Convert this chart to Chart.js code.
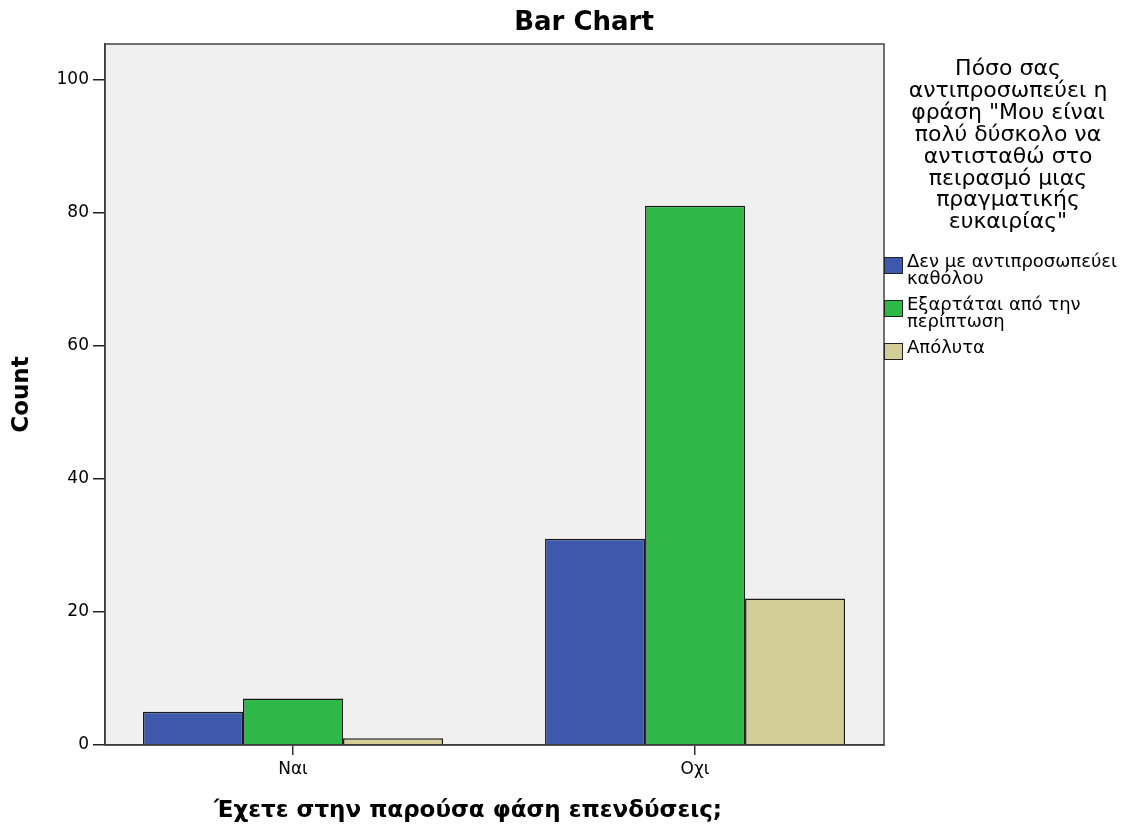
<!DOCTYPE html>
<html><head><meta charset="utf-8">
<script src="https://cdn.jsdelivr.net/npm/chart.js@4/dist/chart.umd.min.js"></script>
<style>html,body{margin:0;padding:0;background:#fff;}</style>
</head><body>
<canvas id="c" width="1141" height="826"></canvas>
<script>
const categories = ["Ναι", "Οχι"];
const seriesLines = [["Δεν με αντιπροσωπεύει", "καθόλου"], ["Εξαρτάται από την", "περίπτωση"], ["Απόλυτα"]];
const notAtAll = [5, 31];
const depends = [7, 81];
const absolutely = [1, 22];
const yTicks = [0, 20, 40, 60, 80, 100];
const chartTitle = "Bar Chart";
const yTitle = "Count";
const xTitle = "Έχετε στην παρούσα φάση επενδύσεις;";
const legendTitleLines = ["Πόσο σας", "αντιπροσωπεύει η", "φράση \"Μου είναι", "πολύ δύσκολο να", "αντισταθώ στο", "πειρασμό μιας", "πραγματικής", "ευκαιρίας\""];
const colors = ["#3E58AC", "#2EB848", "#D3CE97"];
const seriesValues = [notAtAll, depends, absolutely];

const FONT = "'DejaVu Sans', sans-serif";

const deco = {
  id: 'deco',
  beforeDraw(chart) {
    const {ctx, chartArea: a} = chart;
    ctx.save();
    ctx.fillStyle = '#F0F0F0';
    ctx.fillRect(a.left, a.top, a.right - a.left, a.bottom - a.top);
    ctx.restore();
  },
  afterDraw(chart) {
    const {ctx, chartArea: a} = chart;
    ctx.save();
    // plot frame
    ctx.strokeStyle = '#444';
    ctx.lineWidth = 1.5;
    ctx.strokeRect(a.left, a.top, a.right - a.left, a.bottom - a.top);
    // chart title
    ctx.fillStyle = '#000';
    ctx.textAlign = 'center';
    ctx.textBaseline = 'alphabetic';
    ctx.font = "bold 26px " + FONT;
    ctx.fillText(chartTitle, 584, 30);
    // x title
    ctx.font = "bold 23px " + FONT;
    ctx.fillText(xTitle, 468, 817);
    // legend title
    ctx.font = "22px " + FONT;
    legendTitleLines.forEach((t, i) => ctx.fillText(t, 1008, 75 + i * 21.9));
    // legend items
    ctx.textAlign = 'left';
    ctx.font = "18px " + FONT;
    let y = 267;
    chart.data.datasets.forEach((ds, i) => {
      ctx.fillStyle = ds.backgroundColor;
      ctx.fillRect(884, y - 10, 19, 17);
      ctx.strokeStyle = '#222';
      ctx.lineWidth = 1;
      ctx.strokeRect(884.5, y - 9.5, 18, 16);
      ctx.fillStyle = '#000';
      seriesLines[i].forEach((line, j) => ctx.fillText(line, 907, y + j * 17));
      y += seriesLines[i].length * 17 + 9;
    });
    ctx.restore();
  }
};

new Chart(document.getElementById('c'), {
  type: 'bar',
  data: {
    datasets: seriesValues.map((vals, i) => ({
      label: seriesLines[i].join(' '),
      data: categories.map((c, k) => ({x: k, y: vals[k]})),
      backgroundColor: colors[i],
      borderColor: '#1a1a1a',
      borderWidth: 1.5,
      barPercentage: 1,
      categoryPercentage: 300 / 402
    }))
  },
  options: {
    responsive: false,
    animation: false,
    layout: {padding: {left: 0, right: 257, top: 44, bottom: 0}},
    plugins: {legend: {display: false}, title: {display: false}, tooltip: {enabled: false}},
    scales: {
      x: {
        type: 'linear',
        min: -0.4677,
        max: 1.470,
        offset: false,
        afterBuildTicks: s => { s.ticks = categories.map((c, i) => ({value: i})); },
        afterFit: s => { s.height = 81; },
        ticks: {
          callback: v => categories[v] !== undefined ? categories[v] : '',
          font: {family: FONT, size: 17}, color: '#000', padding: 4,
          autoSkip: false, maxRotation: 0
        },
        grid: {offset: false, drawOnChartArea: false, drawTicks: true, tickLength: 10, color: '#333', lineWidth: 1.5},
        border: {display: true, color: '#222', width: 1.5}
      },
      y: {
        min: 0,
        max: 105.3,
        afterBuildTicks: s => { s.ticks = yTicks.map(v => ({value: v})); },
        afterFit: s => { s.width = 105; },
        ticks: {font: {family: FONT, size: 17}, color: '#000', padding: 4},
        grid: {drawOnChartArea: false, drawTicks: true, tickLength: 12, color: '#222', lineWidth: 1.5},
        border: {display: true, color: '#222', width: 1.5},
        title: {display: true, text: yTitle, font: {family: FONT, size: 23, weight: 'bold'}, color: '#000', padding: {top: 8, bottom: 0}}
      }
    }
  },
  plugins: [deco]
});
</script>
</body></html>
